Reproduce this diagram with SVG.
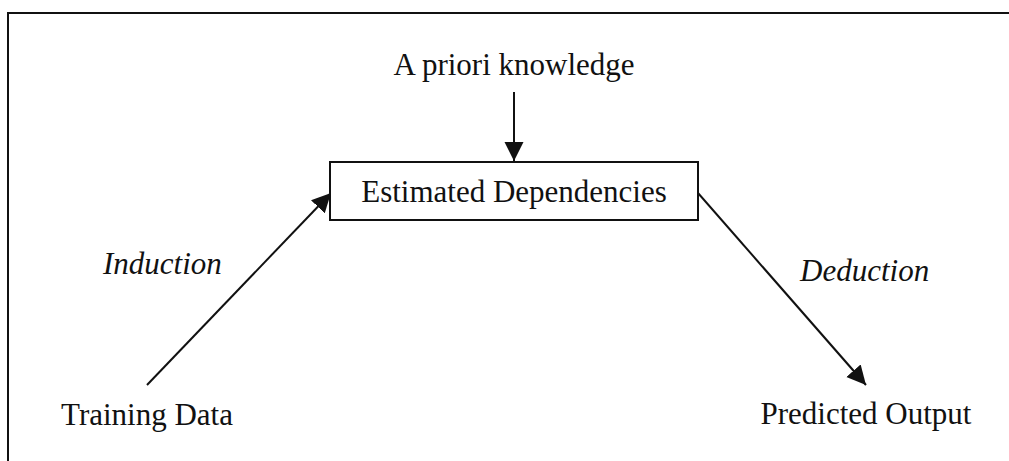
<svg xmlns="http://www.w3.org/2000/svg" width="1009" height="461" viewBox="0 0 1009 461">
  <style>
    .lbl { font-family: "Liberation Serif", "Times New Roman", serif; font-size: 31px; fill: #111; }
    .it { font-style: italic; }
    .edge { stroke: #111; stroke-width: 2; fill: none; }
    .frame { stroke: #111; stroke-width: 2; fill: none; }
    .box { stroke: #111; stroke-width: 2; fill: #fff; }
  </style>
  <defs>
    <marker id="head" markerUnits="userSpaceOnUse" markerWidth="20" markerHeight="20" viewBox="0 0 20 20" refX="19" refY="10" orient="auto">
      <path d="M0,0.5 L19,10 L0,19.5 Z" fill="#111"/>
    </marker>
  </defs>
  <rect width="1009" height="461" fill="#fff"/>

  <!-- outer frame (top and left edges) -->
  <path class="frame" d="M8,461 L8,13 L1009,13"/>

  <g id="connectors">
    <line class="edge" x1="514" y1="92" x2="514" y2="161" marker-end="url(#head)"/>
    <line class="edge" x1="147" y1="385" x2="331" y2="193" marker-end="url(#head)"/>
    <line class="edge" x1="698" y1="193" x2="866" y2="385" marker-end="url(#head)"/>
  </g>

  <g id="node-prior">
    <text class="lbl" x="514" y="75" text-anchor="middle">A priori knowledge</text>
  </g>

  <g id="node-estimated">
    <rect class="box" x="330" y="162" width="368" height="58"/>
    <text class="lbl" x="514" y="202" text-anchor="middle">Estimated Dependencies</text>
  </g>

  <g id="node-training">
    <text class="lbl" x="147" y="425" text-anchor="middle">Training Data</text>
  </g>

  <g id="node-predicted">
    <text class="lbl" x="866" y="424" text-anchor="middle">Predicted Output</text>
  </g>

  <g id="label-induction">
    <text class="lbl it" x="103" y="274">Induction</text>
  </g>

  <g id="label-deduction">
    <text class="lbl it" x="800" y="281">Deduction</text>
  </g>
</svg>
